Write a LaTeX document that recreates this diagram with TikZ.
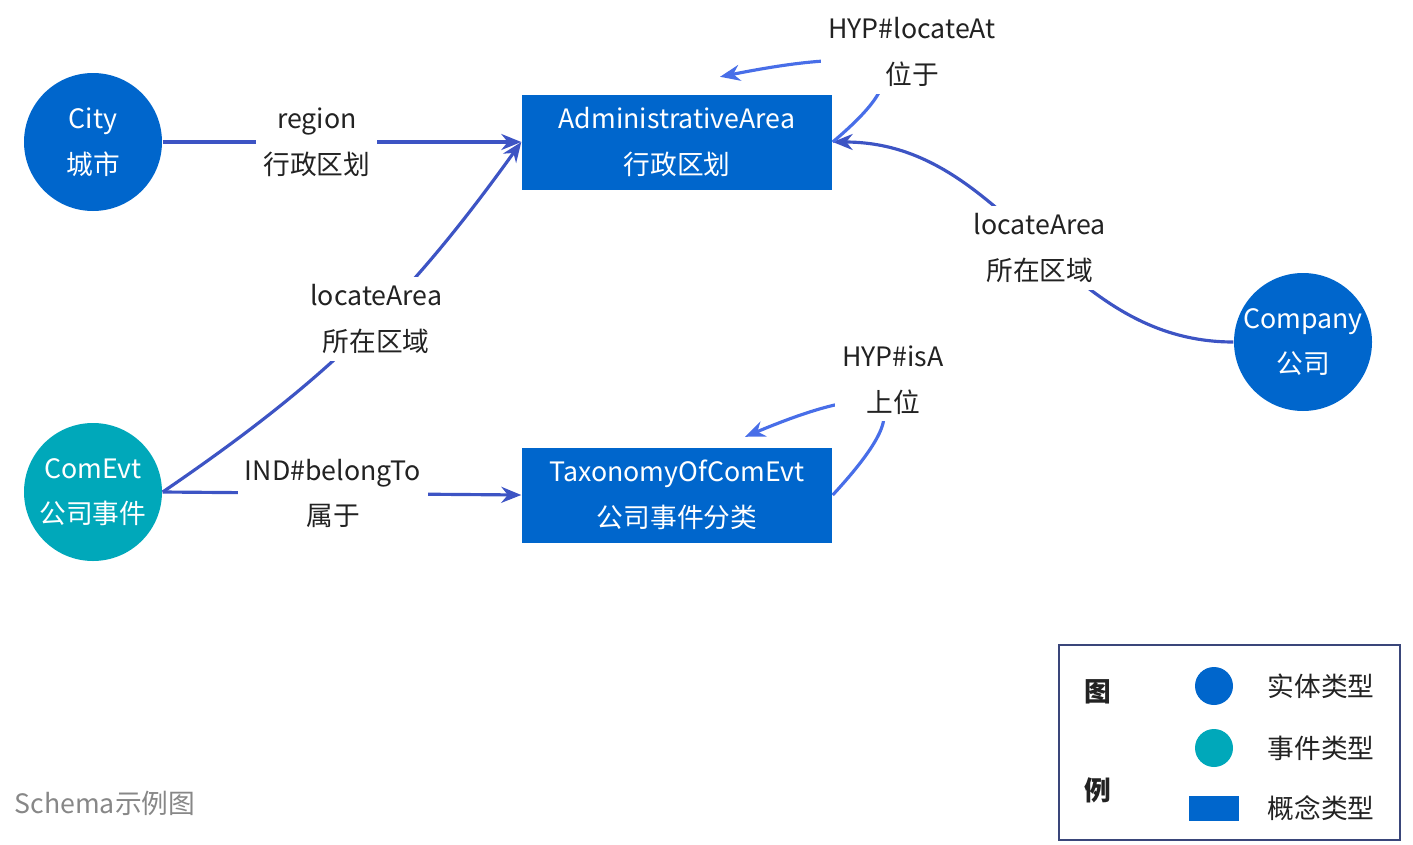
\documentclass[tikz,border=0pt]{standalone}
\usepackage{fontspec}
\setmainfont{Noto Sans CJK SC}
\usetikzlibrary{arrows.meta}
\definecolor{entBlue}{RGB}{0,102,204}
\definecolor{evtTeal}{RGB}{0,168,186}
\definecolor{relBlue}{RGB}{61,84,196}
\definecolor{hypBlue}{RGB}{72,110,232}
\definecolor{legendLine}{RGB}{58,70,122}
\definecolor{labelInk}{RGB}{34,34,34}
\newcommand\kgfont{\fontsize{7.6}{13}\selectfont}

\begin{document}
\begin{tikzpicture}[x=0.1mm, y=-0.1mm,
        entity/.style={circle, fill=entBlue, text=white, minimum size=1.38cm, inner sep=0pt, align=center, font=\kgfont},
        event/.style={entity, fill=evtTeal},
        concept/.style={rectangle, fill=entBlue, text=white, minimum width=3.1cm, minimum height=0.95cm, align=center, font=\kgfont},
        rel/.style={draw=relBlue, line width=0.9pt, -{Stealth[length=2mm, width=1.6mm]}},
        hyp/.style={rel, draw=hypBlue},
        elabel/.style={fill=white, text=labelInk, align=center, font=\kgfont, inner sep=2pt}
    ]
        \useasboundingbox (0,0) rectangle (1413,845);
        \node[entity] (city) at (93,142) {City\\城市};
        \node[event] (comevt) at (93,492) {ComEvt\\公司事件};
        \node[entity] (company) at (1303,342) {Company\\公司};
        \node[concept] (admin) at (677,142) {AdministrativeArea\\行政区划};
        \node[concept] (taxo) at (677,495) {TaxonomyOfComEvt\\公司事件分类};

        \draw[rel] (city.east) -- node[elabel, pos=0.43] (regionLbl) {region\\行政区划} (admin.west);
        \draw[rel] (comevt.east) to[bend right=10] node[elabel, pos=0.55] (locLbl) {locateArea\\所在区域} (admin.west);
        \draw[rel] (comevt.east) -- node[elabel, pos=0.475] (belongLbl) {IND\#belongTo\\属于} (taxo.west);
        \draw[rel] (company.west) to[out=180, in=0] node[elabel, pos=0.48] (compLbl) {locateArea\\所在区域} (admin.east);

        \draw[hyp] (admin.east) .. controls (930,60) and (880,45) .. ([shift={(43,-17)}]admin.north);
        \node[elabel] (locAtLbl) at (912,52) {HYP\#locateAt\\位于};
        \draw[hyp] (taxo.east) .. controls (930,390) and (880,380) .. ([shift={(68,-10)}]taxo.north);
        \node[elabel] (isALbl) at (893,380) {HYP\#isA\\上位};

        \node[draw=legendLine, line width=0.8pt, minimum width=3.41cm, minimum height=1.95cm] (legend) at (1229.5,742.5) {};
        \node[font=\kgfont\bfseries, text=labelInk] (legTu) at (1098,692) {图};
        \node[font=\kgfont\bfseries, text=labelInk] (legLi) at (1098,790) {例};
        \node[circle, fill=entBlue, minimum size=0.38cm, inner sep=0pt] (legEnt) at (1214,686) {};
        \node[circle, fill=evtTeal, minimum size=0.38cm, inner sep=0pt] (legEvt) at (1214,748) {};
        \node[rectangle, fill=entBlue, minimum width=0.5cm, minimum height=0.25cm, inner sep=0pt] (legCon) at (1214,808) {};
        \node[font=\kgfont, text=labelInk] (legEntTxt) at (1321,686) {实体类型};
        \node[font=\kgfont, text=labelInk] (legEvtTxt) at (1321,748) {事件类型};
        \node[font=\kgfont, text=labelInk] (legConTxt) at (1321,808) {概念类型};

        \node[font=\kgfont, text=black!47, anchor=west, inner sep=0pt] (title) at (14,803) {Schema示例图};
    \end{tikzpicture}
\end{document}
